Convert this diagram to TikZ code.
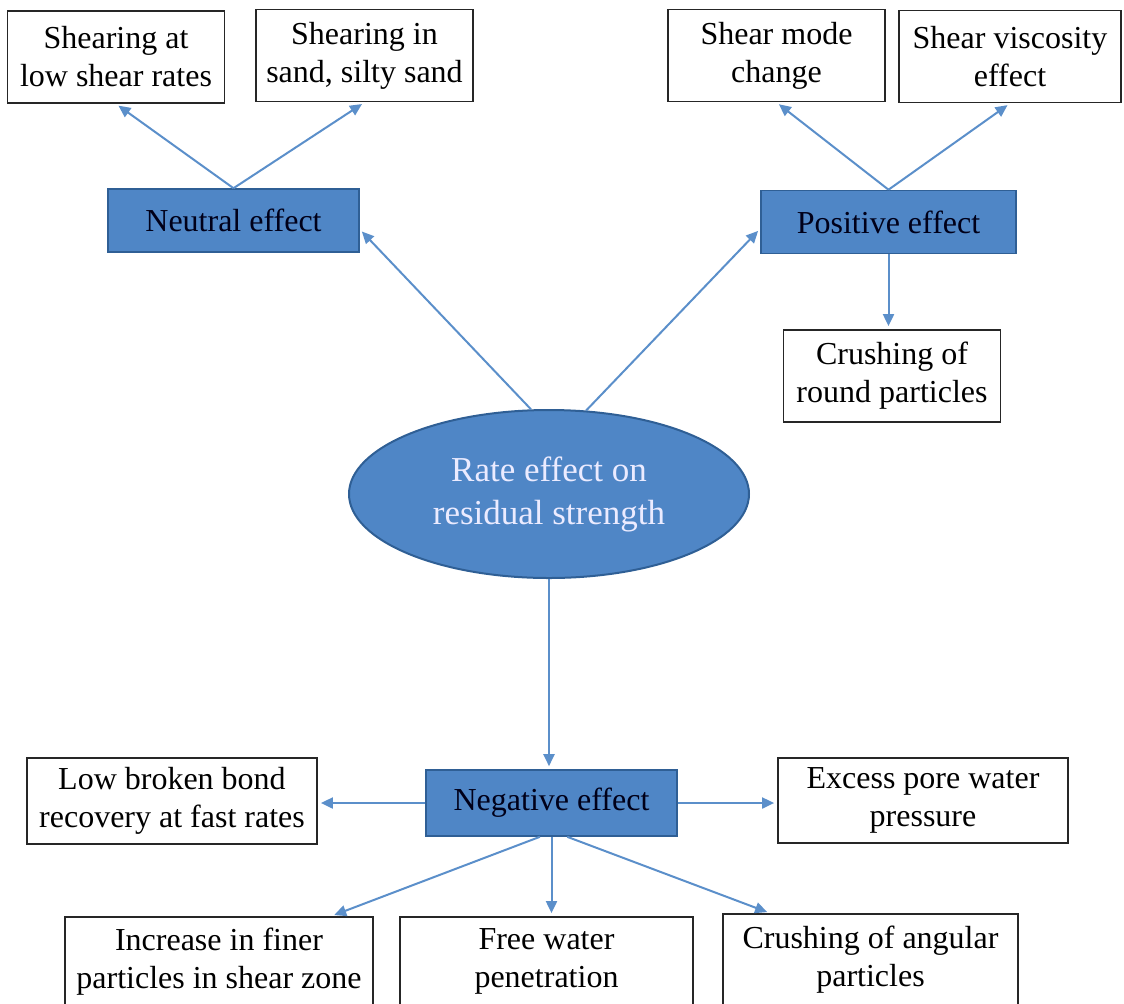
\documentclass[tikz,border=0pt]{standalone}
\usepackage{fontspec}
\setmainfont{Liberation Serif}
\usetikzlibrary{arrows.meta, shapes.geometric}

\definecolor{effblue}{HTML}{4F86C6}
\definecolor{effedge}{HTML}{2F5F95}
\definecolor{linkblue}{HTML}{5B8FCA}

\begin{document}
\begin{tikzpicture}[
    x=0.5pt, y=-0.5pt,
    box/.style={
        draw=black!85, minimum width=108.5pt, minimum height=46pt,
        font=\fontsize{16}{19}\selectfont, align=center, line width=0.9pt, fill=white, inner sep=2pt
    },
    effect/.style={
        draw=effedge, fill=effblue, minimum width=125.5pt, minimum height=31.5pt,
        font=\fontsize{16}{19}\selectfont, text=black!90!blue, line width=0.8pt
    },
    hub/.style={
        ellipse, draw=effedge, fill=effblue, minimum width=200pt, minimum height=84pt,
        font=\fontsize{17.5}{21.5}\selectfont, align=center, text=white!92!blue, line width=1pt, inner sep=0pt
    },
    arrow/.style={
        -{Triangle[length=6pt, width=5.5pt]}, line width=1pt, linkblue,
        shorten >=1.5pt
    }
]
\useasboundingbox (0,0) rectangle (1124,1003);

\node[hub] (rate) at (549,494) {Rate effect on\\residual strength};

\node[effect] (neutral) at (233.5,220.5) {Neutral effect};
\node[effect, minimum width=127.5pt] (positive) at (888.5,222) {Positive effect};
\node[effect, minimum height=33pt] (negative) at (551.5,803) {Negative effect};

\node[box] (lowrate) at (116,57) {Shearing at\\low shear rates};
\node[box] (sand) at (364.5,55.5) {Shearing in\\sand, silty sand};
\node[box] (mode) at (776.5,55.5) {Shear mode\\change};
\node[box, minimum width=111pt] (viscosity) at (1010,56.5) {Shear viscosity\\effect};
\node[box] (round) at (892,376) {Crushing of\\round particles};

\node[box, minimum width=145pt, minimum height=43pt] (bond) at (172,801) {Low broken bond\\recovery at fast rates};
\node[box, minimum width=145pt, minimum height=42.5pt] (pore) at (923,800.5) {Excess pore water\\pressure};
\node[box, minimum width=154pt, minimum height=44.5pt] (finer) at (219,961.5) {Increase in finer\\particles in shear zone};
\node[box, minimum width=146.5pt, minimum height=44.5pt] (free) at (546.5,961.5) {Free water\\penetration};
\node[box, minimum width=147.5pt, minimum height=46pt] (angular) at (870.5,960) {Crushing of angular\\particles};

\draw[arrow] (rate.102) -- (neutral.356);
\draw[arrow] (rate.66) -- (positive.183);
\draw[arrow] (rate.south) -- (rate.south |- negative.north);

\draw[arrow] (neutral.north) -- (lowrate.south);
\draw[arrow] (neutral.north) -- (sand.south);

\draw[arrow] (positive.north) -- (mode.south);
\draw[arrow] (positive.north) -- (viscosity.south);
\draw[arrow] (positive.south) -- (positive.south |- round.north);

\draw[arrow] (negative.west) -- (negative.west -| bond.east);
\draw[arrow] (negative.east) -- (negative.east -| pore.west);
\draw[arrow] (negative.251) -- (finer.22);
\draw[arrow] (negative.south) -- (negative.south |- free.north);
\draw[arrow] (negative.295) -- (angular.155);

\end{tikzpicture}
\end{document}
